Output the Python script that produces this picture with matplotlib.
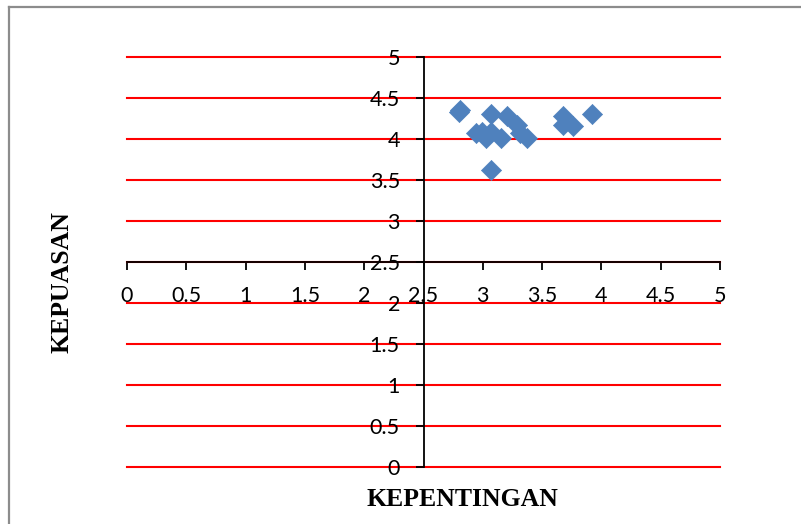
import matplotlib
matplotlib.use("Agg")
import matplotlib.pyplot as plt
from matplotlib.lines import Line2D

# Data
kepentingan = [2.81, 2.80, 3.07, 3.20, 2.94, 2.99, 3.03, 3.07, 3.15, 3.29, 3.31, 3.37, 3.68, 3.68, 3.76, 3.92, 3.07]
kepuasan    = [4.35, 4.33, 4.31, 4.28, 4.07, 4.09, 4.01, 4.09, 4.01, 4.17, 4.07, 4.01, 4.28, 4.17, 4.16, 4.30, 3.62]
tick_values = [0, 0.5, 1, 1.5, 2, 2.5, 3, 3.5, 4, 4.5, 5]
tick_labels = ["0", "0.5", "1", "1.5", "2", "2.5", "3", "3.5", "4", "4.5", "5"]
x_title = "KEPENTINGAN"
y_title = "KEPUASAN"

W, H = 801, 524
fig = plt.figure(figsize=(W / 100, H / 100), dpi=100)
fig.patch.set_facecolor("white")

# outer chart border (top and left visible)
fig.add_artist(Line2D([8.5 / W, 1.0], [1 - 7 / H, 1 - 7 / H], color="#8c8c8c", lw=1.6))
fig.add_artist(Line2D([8.5 / W, 8.5 / W], [0, 1 - 7 / H], color="#8c8c8c", lw=1.6))

ax = fig.add_axes([127 / W, 57 / H, 593 / W, 410 / H])
ax.set_xlim(0, 5)
ax.set_ylim(0, 5)
ax.patch.set_alpha(0)

for s in ["top", "right"]:
    ax.spines[s].set_visible(False)
ax.spines["left"].set_position(("data", 2.5))
ax.spines["bottom"].set_position(("data", 2.5))
for s in ["left", "bottom"]:
    ax.spines[s].set_color("black")
    ax.spines[s].set_linewidth(1.3)
    ax.spines[s].set_zorder(3)

ax.set_xticks(tick_values)
ax.set_xticklabels(tick_labels)
ax.set_yticks(tick_values)
ax.set_yticklabels(tick_labels)
ax.tick_params(axis="both", direction="out", length=6, width=1.3, color="black",
               labelsize=15.5, pad=11)
for lab in ax.get_xticklabels() + ax.get_yticklabels():
    lab.set_fontfamily(["Lato", "DejaVu Sans"])

ax.yaxis.grid(True, color="#ff0000", lw=1.5)
ax.xaxis.grid(False)
ax.set_axisbelow(True)
for gl in ax.get_ygridlines():
    gl.set_clip_on(False)

ax.scatter(kepentingan, kepuasan, marker="D", s=105, color="#4f81bd",
           edgecolors="#4f81bd", linewidths=0.5, zorder=4, clip_on=False)

fig.text(462 / W, 1 - 500 / H, x_title, ha="center", va="center",
         fontsize=18.5, fontweight="bold", family=["Liberation Serif", "DejaVu Serif"])
fig.text(62 / W, 1 - 282 / H, y_title, ha="center", va="center", rotation=90,
         fontsize=18.5, fontweight="bold", family=["Liberation Serif", "DejaVu Serif"])

fig.savefig("out.png", dpi=100)
